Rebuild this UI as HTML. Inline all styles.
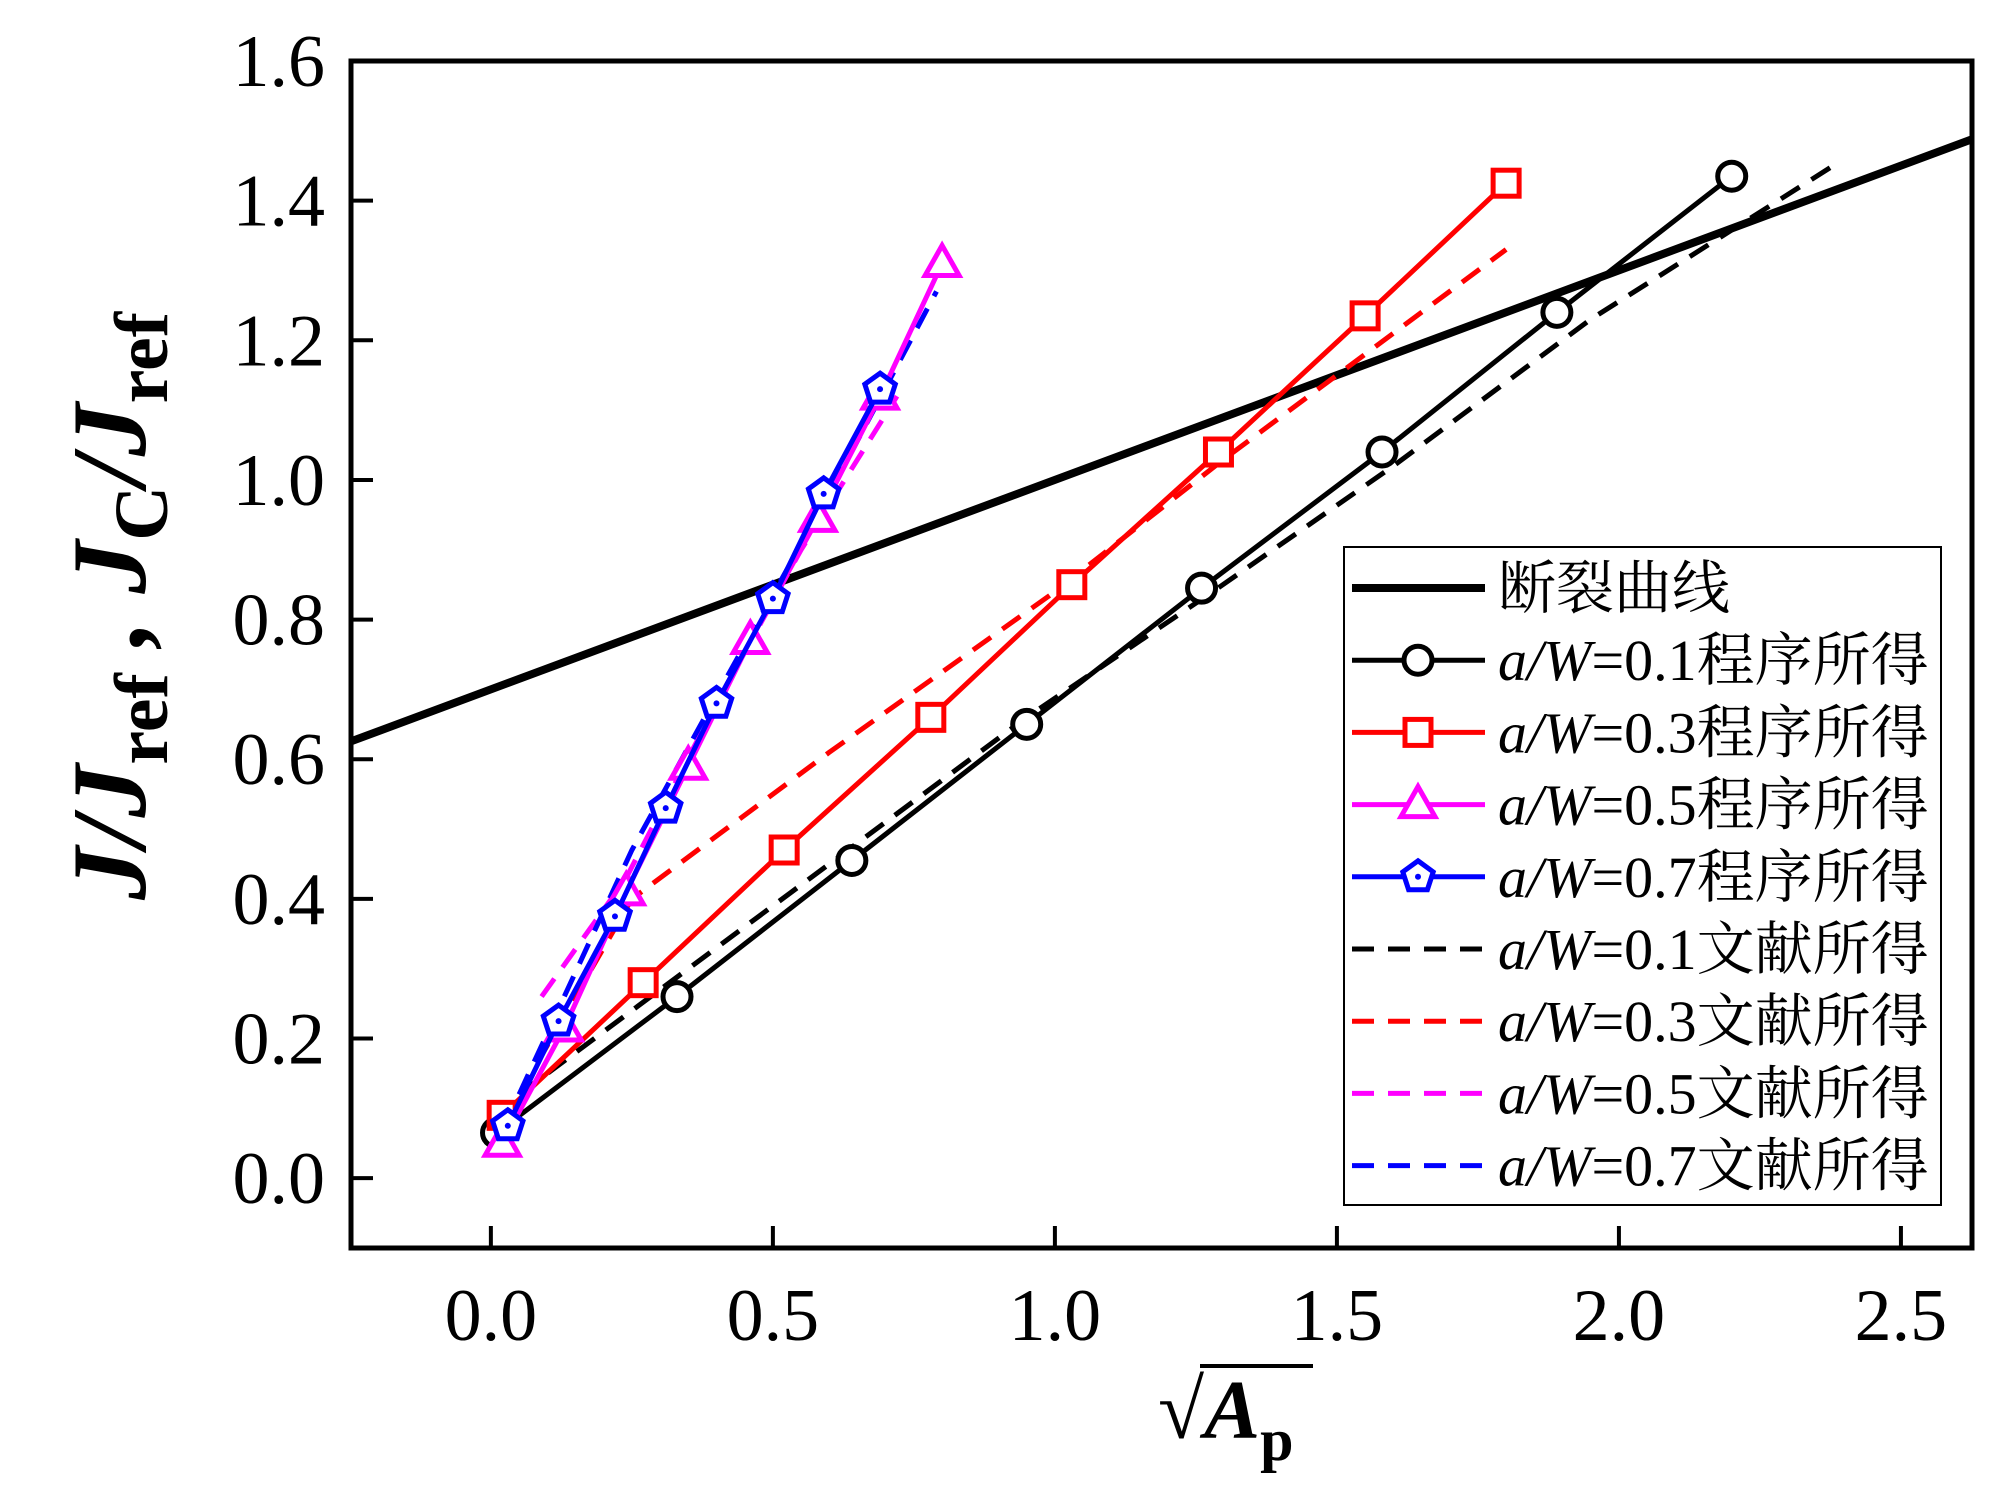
<!DOCTYPE html>
<html><head><meta charset="utf-8"><style>
html,body{margin:0;padding:0;background:#fff}
svg{display:block}
text{font-family:"Liberation Serif","Noto Serif CJK SC",serif}
.cjk{font-family:"Liberation Serif","Noto Serif CJK SC","Noto Sans CJK SC",serif}
</style></head><body>
<svg id="chart" width="1999" height="1507" viewBox="0 0 1999 1507" xmlns="http://www.w3.org/2000/svg">
<rect width="1999" height="1507" fill="#fff"/>
<g id="marks"></g>
<g id="axes"></g>
<g id="legend"></g>
<text transform="translate(145,606) rotate(-90)" text-anchor="middle" font-size="106" font-weight="bold" font-style="italic">J/J<tspan font-size="76" dy="22" font-style="normal">ref</tspan><tspan dy="-22"> , </tspan>J<tspan font-size="76" dy="22" font-style="normal">C</tspan><tspan dy="-22">/J</tspan><tspan font-size="76" dy="22" font-style="normal">ref</tspan></text>
<text x="1158" y="1438" font-size="84" font-weight="bold"><tspan>√</tspan><tspan font-style="italic">A</tspan><tspan font-size="60" dy="22">p</tspan></text>
<line x1="1200" y1="1366" x2="1313" y2="1366" stroke="#000" stroke-width="4"/>
</svg>
<script>
const xTicks=[0.0,0.5,1.0,1.5,2.0,2.5];
const yTicks=[0.0,0.2,0.4,0.6,0.8,1.0,1.2,1.4,1.6];
const fractureX=[-0.25,2.626];
const fractureY=[0.625,1.488];
const p01x=[0.01,0.33,0.64,0.95,1.26,1.58,1.89,2.20];
const p01y=[0.065,0.26,0.455,0.65,0.845,1.04,1.24,1.435];
const p03x=[0.02,0.27,0.52,0.78,1.03,1.29,1.55,1.80];
const p03y=[0.09,0.28,0.47,0.66,0.85,1.04,1.235,1.425];
const p05x=[0.02,0.13,0.24,0.35,0.46,0.58,0.69,0.80];
const p05y=[0.05,0.215,0.41,0.59,0.77,0.945,1.12,1.31];
const p07x=[0.03,0.12,0.22,0.31,0.40,0.50,0.59,0.69];
const p07y=[0.075,0.225,0.375,0.53,0.68,0.83,0.98,1.13];
const l01x=[0.05,0.35,0.65,0.95,1.28,1.60,1.95,2.38];
const l01y=[0.12,0.30,0.48,0.66,0.84,1.02,1.23,1.45];
const l03x=[0.05,0.25,0.60,1.00,1.30,1.80];
const l03y=[0.12,0.40,0.61,0.84,1.03,1.33];
const l05x=[0.09,0.24,0.40,0.55,0.72];
const l05y=[0.26,0.43,0.68,0.90,1.12];
const l07x=[0.05,0.25,0.42,0.60,0.79];
const l07y=[0.12,0.47,0.72,0.98,1.27];

const NS="http://www.w3.org/2000/svg";
const X0=351,X1=1972,Y0=61,Y1=1248;
const xmin=-0.248,xmax=2.626,ymin=-0.1,ymax=1.6;
function sx(v){return X0+(v-xmin)/(xmax-xmin)*(X1-X0);}
function sy(v){return Y1-(v-ymin)/(ymax-ymin)*(Y1-Y0);}
function mk(tag,attrs,parent){const e=document.createElementNS(NS,tag);for(const k in attrs)e.setAttribute(k,attrs[k]);parent.appendChild(e);return e;}
const marks=document.getElementById('marks'),axes=document.getElementById('axes'),leg=document.getElementById('legend');
const SW=5;
function marker(type,cx,cy,color,parent){
  let e;const r=16;
  if(type==='circle'){e=mk('circle',{cx:cx,cy:cy,r:14,fill:'#fff',stroke:color,'stroke-width':SW},parent);}
  else if(type==='square'){e=mk('rect',{x:cx-13,y:cy-13,width:26,height:26,fill:'#fff',stroke:color,'stroke-width':SW},parent);}
  else if(type==='triangle'){e=mk('polygon',{points:`${cx},${cy-18} ${cx+17},${cy+12} ${cx-17},${cy+12}`,fill:'#fff',stroke:color,'stroke-width':SW},parent);}
  else {let pts=[];for(let i=0;i<5;i++){const a=-Math.PI/2+i*2*Math.PI/5;pts.push((cx+r*Math.cos(a)).toFixed(1)+','+(cy+r*Math.sin(a)).toFixed(1));}
    e=mk('polygon',{points:pts.join(' '),fill:'#fff',stroke:color,'stroke-width':SW},parent);
    const d=mk('circle',{cx:cx,cy:cy,r:3,fill:color},parent);
    
    }
  return e;
}
function series(xs,ys,color,dash,mtype,name){
  const g=mk('g',{},marks);
  
  
  const pts=xs.map((x,i)=>sx(x).toFixed(1)+','+sy(ys[i]).toFixed(1)).join(' ');
  const pl=mk('polyline',{points:pts,fill:'none',stroke:color,'stroke-width':SW,'stroke-dasharray':dash?'22,14':'none'},g);
  
  
  if(mtype){xs.forEach((x,i)=>{const m=marker(mtype,sx(x),sy(ys[i]),color,g);
    
    });}
}
const clip=mk('clipPath',{id:'pc'},marks);mk('rect',{x:X0,y:Y0,width:X1-X0,height:Y1-Y0},clip);
const fl=mk('line',{x1:sx(fractureX[0]),y1:sy(fractureY[0]),x2:sx(fractureX[1]),y2:sy(fractureY[1]),stroke:'#000','stroke-width':8,'clip-path':'url(#pc)'},marks);


series(l01x,l01y,'#000',true,null,'lit-aw-0.1');
series(l03x,l03y,'#f00',true,null,'lit-aw-0.3');
series(l05x,l05y,'#f0f',true,null,'lit-aw-0.5');
series(l07x,l07y,'#00f',true,null,'lit-aw-0.7');
series(p01x,p01y,'#000',false,'circle','prog-aw-0.1');
series(p03x,p03y,'#f00',false,'square','prog-aw-0.3');
series(p05x,p05y,'#f0f',false,'triangle','prog-aw-0.5');
series(p07x,p07y,'#00f',false,'pentagon','prog-aw-0.7');

const fr=mk('rect',{x:X0,y:Y0,width:X1-X0,height:Y1-Y0,fill:'none',stroke:'#000','stroke-width':5},axes);


xTicks.forEach(v=>{const x=sx(v);
  const t=mk('line',{x1:x,y1:Y1,x2:x,y2:Y1-22,stroke:'#000','stroke-width':4},axes);
  
  
  const l=mk('text',{x:x,y:1340,'text-anchor':'middle','font-size':74},axes);l.textContent=v.toFixed(1);
  
  });
yTicks.forEach(v=>{const y=sy(v);
  const t=mk('line',{x1:X0,y1:y,x2:X0+22,y2:y,stroke:'#000','stroke-width':4},axes);
  
  
  const l=mk('text',{x:325,y:y+25,'text-anchor':'end','font-size':74},axes);l.textContent=v.toFixed(1);
  
  });

const lb=mk('rect',{x:1344,y:547,width:597,height:658,fill:'#fff',stroke:'#000','stroke-width':2},leg);


const entries=[
 ['断裂曲线','#000',false,null,8],
 ['0.1程序所得','#000',false,'circle',SW],
 ['0.3程序所得','#f00',false,'square',SW],
 ['0.5程序所得','#f0f',false,'triangle',SW],
 ['0.7程序所得','#00f',false,'pentagon',SW],
 ['0.1文献所得','#000',true,null,SW],
 ['0.3文献所得','#f00',true,null,SW],
 ['0.5文献所得','#f0f',true,null,SW],
 ['0.7文献所得','#00f',true,null,SW]];
entries.forEach((e,i)=>{const y=588+i*72.2;
  const g=mk('g',{},leg);
  
  
  mk('line',{x1:1352,y1:y,x2:1485,y2:y,stroke:e[1],'stroke-width':e[4],'stroke-dasharray':e[2]?'22,14':'none'},g);
  if(e[3])marker(e[3],1418,y,e[1],g);
  const t=mk('text',{x:1498,y:y+20,'font-size':58,'class':'cjk'},g);
  if(i===0){t.textContent=e[0];}
  else{const a=mk('tspan',{'font-style':'italic'},t);a.textContent='a/W';
       const b=mk('tspan',{},t);b.textContent='='+e[0];}
});
</script>
</body></html>
